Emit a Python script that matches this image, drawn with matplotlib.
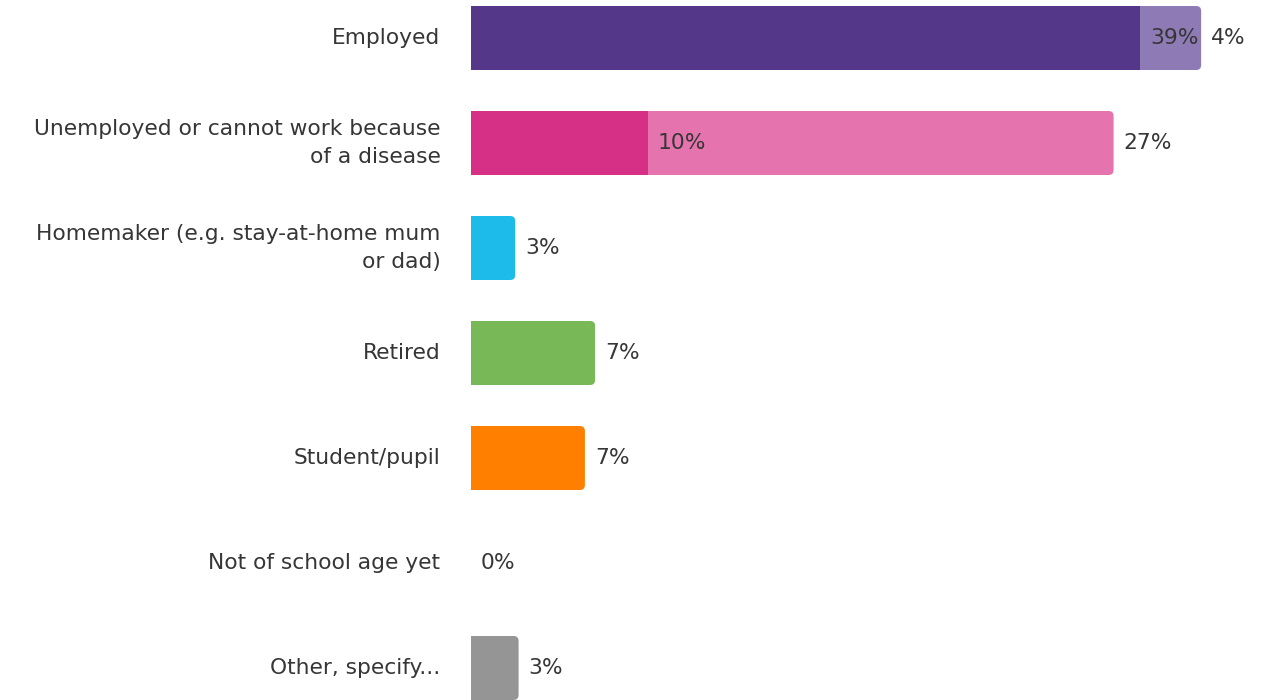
import numpy as np
import matplotlib.pyplot as plt
from matplotlib.patches import FancyBboxPatch

categories = ["Employed",
              "Unemployed or cannot work because\nof a disease",
              "Homemaker (e.g. stay-at-home mum\nor dad)",
              "Retired",
              "Student/pupil",
              "Not of school age yet",
              "Other, specify..."]
# first segment (only the first two rows are split in two)
part1 = [39.35, 10.4, 2.6, 7.3, 6.7, 0.0, 2.8]
part2 = [3.6, 27.4, 0.0, 0.0, 0.0, 0.0, 0.0]
labels1 = ["39%", "10%", "3%", "7%", "7%", "0%", "3%"]
labels2 = ["4%", "27%", "", "", "", "", ""]
dark_colors = ["#55378a", "#d63086", "#1cbbea", "#78b856", "#ff8000", "#959595", "#959595"]
light_colors = ["#8e7ab5", "#e573ae", None, None, None, None, None]

text_color = "#363636"
fs = 15.7
W, H = 12.81, 7.0
fig = plt.figure(figsize=(W, H), dpi=100)
ax = fig.add_axes([471 / 1281, 0, 1 - 471 / 1281, 1])

px_x = 17.0   # pixels per percent
px_y = 105.0  # pixels per row
ax.set_xlim(0, 810 / px_x)
ax.set_ylim((700 - 38) / px_y, -38 / px_y)
bar_h = 64 / px_y
r = 5 / px_x
aspect = px_x / px_y


def rounded_bar(y, start, width, color):
    # start a bit to the left so left corners are clipped / hidden
    p = FancyBboxPatch((start - 1.0, y - bar_h / 2), width + 1.0, bar_h,
                       boxstyle=f"round,pad=0,rounding_size={r}",
                       mutation_aspect=aspect, fc=color, ec="none", zorder=2)
    ax.add_patch(p)


def value_label(x, i, txt):
    ax.annotate(txt, (x, i), xytext=(7.2, 0), textcoords="offset points",
                ha="left", va="center", fontsize=fs, color=text_color, zorder=4)


y = np.arange(len(categories))
for i in y:
    total = part1[i] + part2[i]
    if part2[i] > 0:
        rounded_bar(i, 0, total, light_colors[i])
        ax.barh(i, part1[i], height=bar_h, color=dark_colors[i], zorder=3)
        value_label(part1[i], i, labels1[i])
        value_label(total, i, labels2[i])
    else:
        if part1[i] > 0:
            rounded_bar(i, 0, part1[i], dark_colors[i])
        value_label(part1[i], i, labels1[i])

ax.set_yticks(y)
ax.set_yticklabels(categories, fontsize=fs, color=text_color, ha="right",
                   va="center", linespacing=1.45)
ax.tick_params(axis="y", length=0, pad=22)
ax.set_xticks([])
for s in ax.spines.values():
    s.set_visible(False)

fig.savefig("out.png", dpi=100)
